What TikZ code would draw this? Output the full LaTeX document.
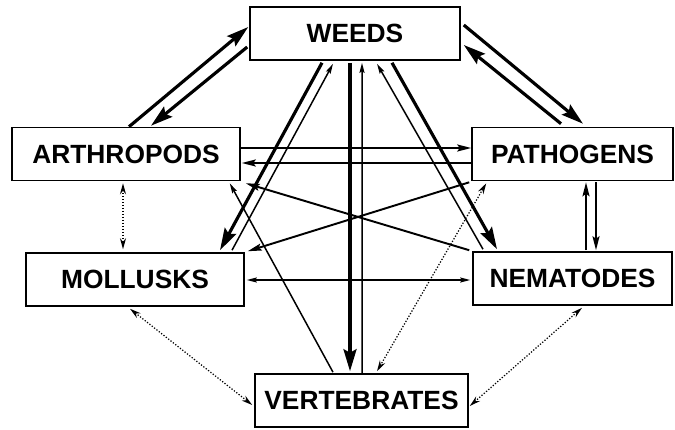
\documentclass[tikz,border=0pt]{standalone}
\usepackage{fontspec}
\setmainfont{Liberation Sans}
\usetikzlibrary{positioning, arrows.meta, calc}
\tikzset{
  box/.style={draw, line width=0.9pt, rectangle, minimum height=1.06cm, inner sep=0pt, font=\fontsize{15}{18}\selectfont\bfseries},
  heavy/.style={line width=1.8pt, -{Stealth[length=0.44cm, width=0.26cm, inset=0.07cm]}},
  mid/.style={line width=1.1pt, -{Stealth[length=0.28cm, width=0.14cm, inset=0.05cm]}},
  light/.style={line width=0.85pt, -{Stealth[length=0.2cm, width=0.1cm, inset=0.03cm]}},
  twoway/.style={line width=0.85pt, {Stealth[length=0.2cm, width=0.1cm, inset=0.03cm]}-{Stealth[length=0.2cm, width=0.1cm, inset=0.03cm]}},
  dotlink/.style={line width=0.7pt, densely dotted, {Stealth[length=0.22cm, width=0.12cm]}-{Stealth[length=0.22cm, width=0.12cm]}},
}

\begin{document}
\begin{tikzpicture}[x=0.02cm, y=-0.02cm]
\useasboundingbox (0,0) rectangle (675,429);
\node[box, minimum width=4.2cm] (weeds) at (355,33.5) {WEEDS};
\node[box, minimum width=4.56cm] (arth) at (126,154) {ARTHROPODS};
\node[box, minimum width=4.02cm] (path) at (572.5,154) {PATHOGENS};
\node[box, minimum width=4.36cm] (moll) at (135,279.5) {MOLLUSKS};
\node[box, minimum width=3.98cm] (nema) at (572.5,278.5) {NEMATODES};
\node[box, minimum width=4.26cm] (vert) at (361.5,400.5) {VERTEBRATES};
\draw[heavy] ($(arth.north)+(3,0)$) -- ($(weeds.west)+(-1,-6.5)$);
\draw[heavy] ($(weeds.west)+(-2,13.5)$) -- ($(arth.north)+(25,-1)$);
\draw[heavy] ($(weeds.east)+(3,-8.5)$) -- ($(path.north)+(10.5,-3)$);
\draw[heavy] ($(path.north)+(-11.5,-3)$) -- ($(weeds.east)+(3,11.5)$);
\draw[heavy] ($(weeds.south)+(-33,2)$) -- ($(moll.north)+(85,-2)$);
\draw[light] ($(moll.north)+(97,-2)$) -- ($(weeds.south)+(-22,3)$);
\draw[heavy] ($(weeds.south)+(-5,2)$) -- ($(vert.north)+(-11.5,-2)$);
\draw[light] ($(vert.north)+(0.5,0)$) -- ($(weeds.south)+(7,2)$);
\draw[light] ($(nema.north)+(-89.5,-2)$) -- ($(weeds.south)+(22,3)$);
\draw[heavy] ($(weeds.south)+(37,2)$) -- ($(nema.north)+(-75.5,-2)$);
\draw[mid] ($(arth.east)+(0,-6)$) -- ($(path.west)+(0,-6)$);
\draw[mid] ($(path.west)+(0,9)$) -- ($(arth.east)+(1,9)$);
\draw[mid] ($(nema.north west)+(-3,-1)$) -- ($(arth.south east)+(5,2)$);
\draw[mid] ($(path.south west)+(-2,1)$) -- ($(moll.north east)+(3,-1)$);
\draw[light] ($(vert.north)+(-28.5,-1)$) -- ($(arth.south east)+(-11,2)$);
\draw[twoway] ($(moll.east)+(2,0.5)$) -- ($(nema.west)+(-2,1.5)$);
\draw[mid] ($(nema.north)+(13.5,-1)$) -- ($(path.south)+(13.5,1)$);
\draw[mid] ($(path.south)+(23.5,1)$) -- ($(nema.north)+(23.5,-1)$);
\draw[dotlink] ($(arth.south)+(-3,2)$) -- ($(moll.north)+(-12,-3)$);
\draw[dotlink] ($(moll.south)+(-5,2)$) -- ($(vert.west)+(-2,4.5)$);
\draw[dotlink] ($(nema.south)+(9.5,2)$) -- ($(vert.east)+(1,5.5)$);
\draw[dotlink] ($(path.south west)+(15,2)$) -- ($(vert.north)+(15.5,-2)$);
\end{tikzpicture}
\end{document}
